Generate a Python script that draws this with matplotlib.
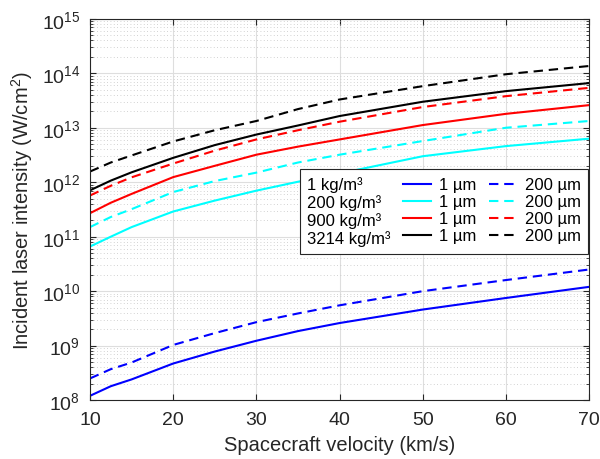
import numpy as np
import matplotlib
matplotlib.use("Agg")
import matplotlib.pyplot as plt
from matplotlib.lines import Line2D

plt.rcParams['font.family'] = ['Liberation Sans', 'DejaVu Sans']
plt.rcParams['mathtext.fontset'] = 'custom'
plt.rcParams['mathtext.rm'] = 'Liberation Sans'
plt.rcParams['mathtext.it'] = 'Liberation Sans:italic'
plt.rcParams['mathtext.default'] = 'regular'

# velocities where values were read (km/s)
velocity = [10, 12.5, 15, 20, 25, 30, 35, 40, 50, 60, 70]

# incident laser intensity (W/cm^2)
blue_1um = [1.2e8, 1.8e8, 2.4e8, 4.7e8, 7.8e8, 1.23e9, 1.85e9, 2.6e9, 4.6e9, 7.5e9, 1.2e10]
blue_200um = [2.5e8, 3.7e8, 4.9e8, 1.03e9, 1.7e9, 2.7e9, 3.9e9, 5.5e9, 1.0e10, 1.6e10, 2.5e10]
cyan_1um = [6.6e10, 1.0e11, 1.5e11, 2.9e11, 4.6e11, 7.0e11, 1.02e12, 1.45e12, 3.0e12, 4.6e12, 6.3e12]
cyan_200um = [1.5e11, 2.3e11, 3.2e11, 6.6e11, 1.05e12, 1.5e12, 2.3e12, 3.2e12, 5.7e12, 1.0e13, 1.33e13]
red_1um = [2.7e11, 4.2e11, 6.1e11, 1.24e12, 2.0e12, 3.2e12, 4.5e12, 6.1e12, 1.12e13, 1.8e13, 2.6e13]
red_200um = [5.7e11, 8.6e11, 1.23e12, 2.2e12, 3.8e12, 6.1e12, 9.0e12, 1.29e13, 2.4e13, 3.8e13, 5.4e13]
black_1um = [7.1e11, 1.07e12, 1.52e12, 2.8e12, 4.8e12, 7.5e12, 1.1e13, 1.64e13, 3.0e13, 4.7e13, 6.6e13]
black_200um = [1.57e12, 2.3e12, 3.1e12, 5.6e12, 9.0e12, 1.33e13, 2.2e13, 3.3e13, 5.8e13, 9.6e13, 1.36e14]

densities = ['1 kg/m³', '200 kg/m³', '900 kg/m³', '3214 kg/m³']
colors = ['#0000ff', '#00ffff', '#ff0000', '#000000']
solid_series = [blue_1um, cyan_1um, red_1um, black_1um]
dashed_series = [blue_200um, cyan_200um, red_200um, black_200um]

axis_color = (0.15, 0.15, 0.15)
dash = (0, (4.5, 2.8))

fig = plt.figure(figsize=(6, 4.6), dpi=100)
ax = fig.add_axes([0.15, 0.128, 0.832, 0.829])

solid_handles = []
dashed_handles = []
for col, ys, yd in zip(colors, solid_series, dashed_series):
    h1, = ax.plot(velocity, ys, color=col, lw=1.5)
    h2, = ax.plot(velocity, yd, color=col, lw=1.5, linestyle=dash)
    solid_handles.append(h1)
    dashed_handles.append(h2)

ax.set_yscale('log')
ax.set_xlim(10, 70)
ax.set_ylim(1e8, 1e15)
ax.set_xticks([10, 20, 30, 40, 50, 60, 70])
ax.set_yticks([10.0 ** k for k in range(8, 16)])
ax.yaxis.set_minor_locator(matplotlib.ticker.LogLocator(base=10, subs=np.arange(2, 10), numticks=20))
ax.yaxis.set_minor_formatter(matplotlib.ticker.NullFormatter())

ax.grid(True, which='major', color='#dedede', lw=0.8)
ax.grid(True, which='minor', axis='y', color='#c4c4c4', lw=0.6, linestyle=(0, (1, 3)))
ax.set_axisbelow(True)

ax.tick_params(which='both', direction='in', top=True, right=True,
               color=axis_color, labelcolor=axis_color, labelsize=14)
ax.tick_params(which='major', length=4)
ax.tick_params(which='minor', length=2.5)
ax.tick_params(axis='x', pad=8)
ax.tick_params(axis='y', pad=7)
for sp in ax.spines.values():
    sp.set_color(axis_color)
    sp.set_linewidth(0.8)

ax.set_xlabel('Spacecraft velocity (km/s)', fontsize=14.5, color=axis_color, labelpad=5)
ax.set_ylabel('Incident laser intensity (W/cm$^2$)', fontsize=14.5, color=axis_color, labelpad=5)

# legend: first column is text only (densities), then 1 um and 200 um columns
blank = [Line2D([], [], color='none') for _ in densities]
handles = blank + solid_handles + dashed_handles
labels = densities + ['1 µm'] * 4 + ['200 µm'] * 4
leg = ax.legend(handles, labels, ncol=3, loc='upper right',
                bbox_to_anchor=(0.998, 0.606), borderaxespad=0,
                fontsize=12, handlelength=1.7, handletextpad=0.45,
                columnspacing=0.75, labelspacing=0.12, fancybox=False,
                framealpha=1, edgecolor=axis_color, borderpad=0.45)
leg.get_frame().set_linewidth(0.8)

# drop the empty handle space in the first legend column
first_col = leg._legend_handle_box.get_children()[0]
for row in first_col.get_children():
    row.get_children()[0].width = 0
    row.sep = 0

fig.savefig('out.png', dpi=100)
